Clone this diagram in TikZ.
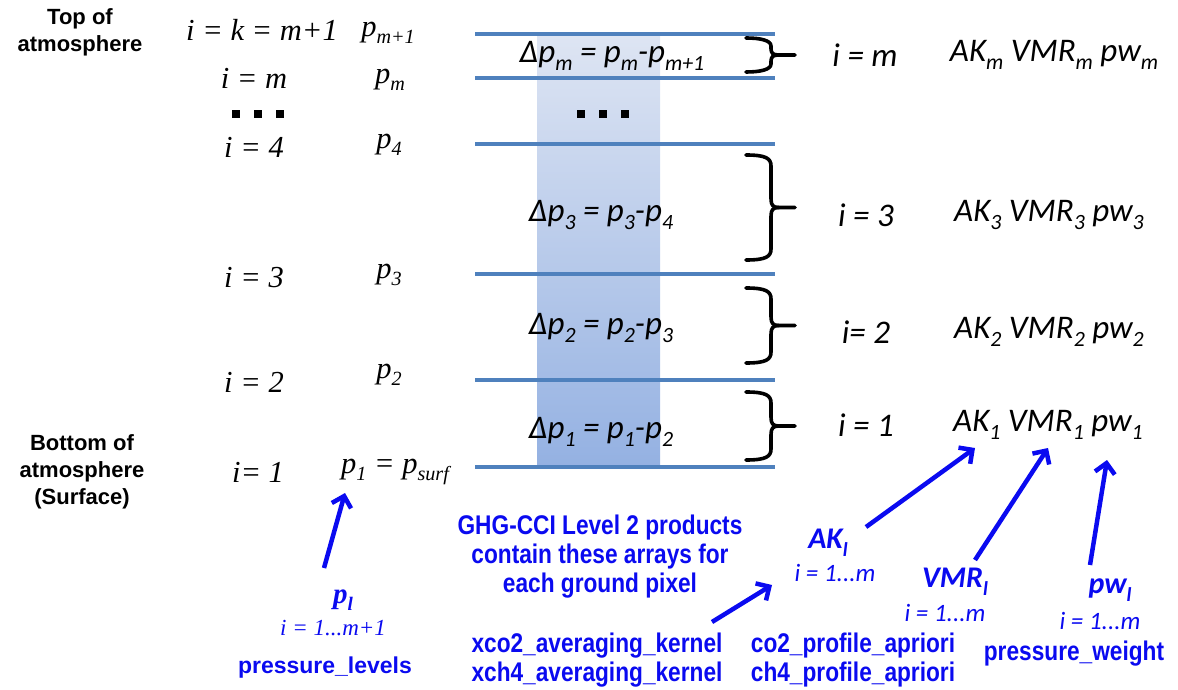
\documentclass[tikz,border=0pt]{standalone}
\usepackage{fontspec}
\usetikzlibrary{arrows.meta}
\newfontfamily\calib{Carlito}
\newfontfamily\tms{Liberation Serif}
\newfontfamily\hv{Liberation Sans}
\newfontfamily\hvn[FakeStretch=0.84]{Liberation Sans}
\definecolor{layerblue}{RGB}{79,129,189}
\definecolor{colTop}{RGB}{222,229,243}
\definecolor{colBot}{RGB}{148,177,226}
\definecolor{arrblue}{RGB}{10,10,240}
% lowered, reduced index text
\newcommand\sbs[1]{\raisebox{-0.25em}{\scalebox{0.66}{#1}}}
% right-hand curly brace: top y, bottom y, hook radius
\newcommand\layerbrace[3]{%
  \draw[bracestroke] (746,#1) .. controls ({746+0.9*#3*2},#1) and (771,{#1-0.3*#3}) .. (771,{#1-#3})
    -- (771,{(#1+#2)/2+0.8*#3}) .. controls (771,{(#1+#2)/2+0.2*#3}) and (773,{(#1+#2)/2}) .. (779,{(#1+#2)/2}) -- (795,{(#1+#2)/2});
  \draw[bracestroke] (746,#2) .. controls ({746+0.9*#3*2},#2) and (771,{#2+0.3*#3}) .. (771,{#2+#3})
    -- (771,{(#1+#2)/2-0.8*#3}) .. controls (771,{(#1+#2)/2-0.2*#3}) and (773,{(#1+#2)/2}) .. (779,{(#1+#2)/2});
}
\tikzset{
  layerline/.style={draw=layerblue,line width=4pt},
  bracestroke/.style={draw=black,line width=3.6pt,line cap=round,line join=round},
  lefthead/.style={font=\hv\bfseries\fontsize{22}{27}\selectfont,align=center,inner sep=0pt},
  lvl/.style={font=\tms\itshape\fontsize{30.5}{34}\selectfont,inner sep=0pt},
  dp/.style={font=\calib\itshape\fontsize{33}{36}\selectfont,inner sep=0pt},
  rlab/.style={font=\calib\itshape\fontsize{33}{36}\selectfont,inner sep=0pt},
  bluevar/.style={text=arrblue,font=\calib\bfseries\itshape\fontsize{30}{34}\selectfont,inner sep=0pt},
  bluerange/.style={text=arrblue,font=\calib\itshape\fontsize{25}{28}\selectfont,inner sep=0pt},
  bluename/.style={text=arrblue,font=\hvn\bfseries\fontsize{27}{29}\selectfont,align=center,inner sep=0pt},
  pointer/.style={draw=arrblue,line width=4.5pt,-{Straight Barb[length=10pt,width=20pt]}},
}
\begin{document}
\begin{tikzpicture}[x=1pt,y=1pt]
\useasboundingbox (0,0) rectangle (1178,689);

% shaded column behind the layers
\shade[top color=colTop,bottom color=colBot] (537,222) rectangle (660,655);

% pressure level boundaries
\foreach \yy in {655,611,545,415,309,222}
  \draw[layerline] (475,\yy) -- (775,\yy);

% left headings
\node[lefthead] (toa) at (80,657) {Top of\\atmosphere};
\node[lefthead] (boa) at (82,217) {Bottom of\\atmosphere\\(Surface)};

% level indices and pressures
\node[lvl] (ik) at (262,659) {i = k = m+1};
\node[lvl] (pk) at (388,656) {p\sbs{m+1}};
\node[lvl] (lm) at (254,611) {i = m};
\node[lvl] (plm) at (390,609) {p\sbs{m}};
\node[inner sep=0pt] (ldots) at (258,575) {\rule{8pt}{8pt}\hspace{14pt}\rule{8pt}{8pt}\hspace{14pt}\rule{8pt}{8pt}};
\node[lvl] (l4) at (254,542) {i = 4};
\node[lvl] (p4) at (389,544) {p\sbs{4}};
\node[lvl] (l3) at (254,411) {i = 3};
\node[lvl] (p3) at (389,414) {p\sbs{3}};
\node[lvl] (l2) at (254,307) {i = 2};
\node[lvl] (p2) at (389,314) {p\sbs{2}};
\node[lvl] (l1) at (258,217) {i= 1};
\node[lvl] (p1) at (395,217) {p\sbs{1} = p\sbs{surf}};

% layer thicknesses
\node[dp] (dpm) at (612,633) {Δp\sbs{m} = p\sbs{m}-p\sbs{m+1}};
\node[inner sep=0pt] (mdots) at (603,575) {\rule{8pt}{8pt}\hspace{14pt}\rule{8pt}{8pt}\hspace{14pt}\rule{8pt}{8pt}};
\node[dp] (dp3) at (601,474) {Δp\sbs{3} = p\sbs{3}-p\sbs{4}};
\node[dp] (dp2) at (601,361) {Δp\sbs{2} = p\sbs{2}-p\sbs{3}};
\node[dp] (dp1) at (601,257) {Δp\sbs{1} = p\sbs{1}-p\sbs{2}};

% braces grouping each layer
\layerbrace{651}{617}{8}
\layerbrace{534}{429}{11}
\layerbrace{401}{326}{11}
\layerbrace{297}{229}{11}

% layer indices and per-layer quantities
\node[rlab] (rm) at (865,634) {i = m};
\node[rlab] (qm) at (1054,634) {AK\sbs{m} VMR\sbs{m} pw\sbs{m}};
\node[rlab] (r3) at (866,474) {i = 3};
\node[rlab] (q3) at (1049,474) {AK\sbs{3} VMR\sbs{3} pw\sbs{3}};
\node[rlab] (r2) at (866,357) {i= 2};
\node[rlab] (q2) at (1049,357) {AK\sbs{2} VMR\sbs{2} pw\sbs{2}};
\node[rlab] (r1) at (866,264) {i = 1};
\node[rlab] (q1) at (1048,264) {AK\sbs{1} VMR\sbs{1} pw\sbs{1}};

% product arrays
\node[text=arrblue,font=\tms\bfseries\itshape\fontsize{29}{32}\selectfont,inner sep=0pt] (pl) at (343,89) {p\sbs{l}};
\node[text=arrblue,font=\tms\itshape\fontsize{23}{26}\selectfont,inner sep=0pt] (plr) at (333,61) {i = 1...m+1};
\node[text=arrblue,font=\hv\bfseries\fontsize{23}{27}\selectfont,inner sep=0pt] (pln) at (325,21) {pressure\_levels};

\node[bluename] (ghg) at (600,132) {GHG-CCI Level 2 products\\contain these arrays for\\each ground pixel};

\node[bluevar] (akl) at (828,146) {AK\sbs{l}};
\node[bluerange] (akr) at (835,116) {i = 1...m};
\node[bluevar] (vmrl) at (955,107) {VMR\sbs{l}};
\node[bluerange] (vmrr) at (945,76) {i = 1...m};
\node[bluevar] (pwl) at (1110,99) {pw\sbs{l}};
\node[bluerange] (pwr) at (1100,68) {i = 1...m};

\node[bluename] (akn) at (597,29) {xco2\_averaging\_kernel\\xch4\_averaging\_kernel};
\node[bluename] (vmrn) at (853,29) {co2\_profile\_apriori\\ch4\_profile\_apriori};
\node[bluename] (pwn) at (1074,35) {pressure\_weight};

% arrow end points
\coordinate (pTail) at (324,121);  \coordinate (pTip) at (345,196);
\coordinate (akTail) at (866,162); \coordinate (akTip) at (975,241);
\coordinate (vTail) at (975,129);  \coordinate (vTip) at (1048,241);
\coordinate (wTail) at (1090,124); \coordinate (wTip) at (1107,229);
\coordinate (kTail) at (712,67);   \coordinate (kTip) at (772,104);

\draw[pointer] (pTail) -- (pTip);
\draw[pointer] (akTail) -- (akTip);
\draw[pointer] (vTail) -- (vTip);
\draw[pointer] (wTail) -- (wTip);
\draw[pointer] (kTail) -- (kTip);
\end{tikzpicture}
\end{document}
